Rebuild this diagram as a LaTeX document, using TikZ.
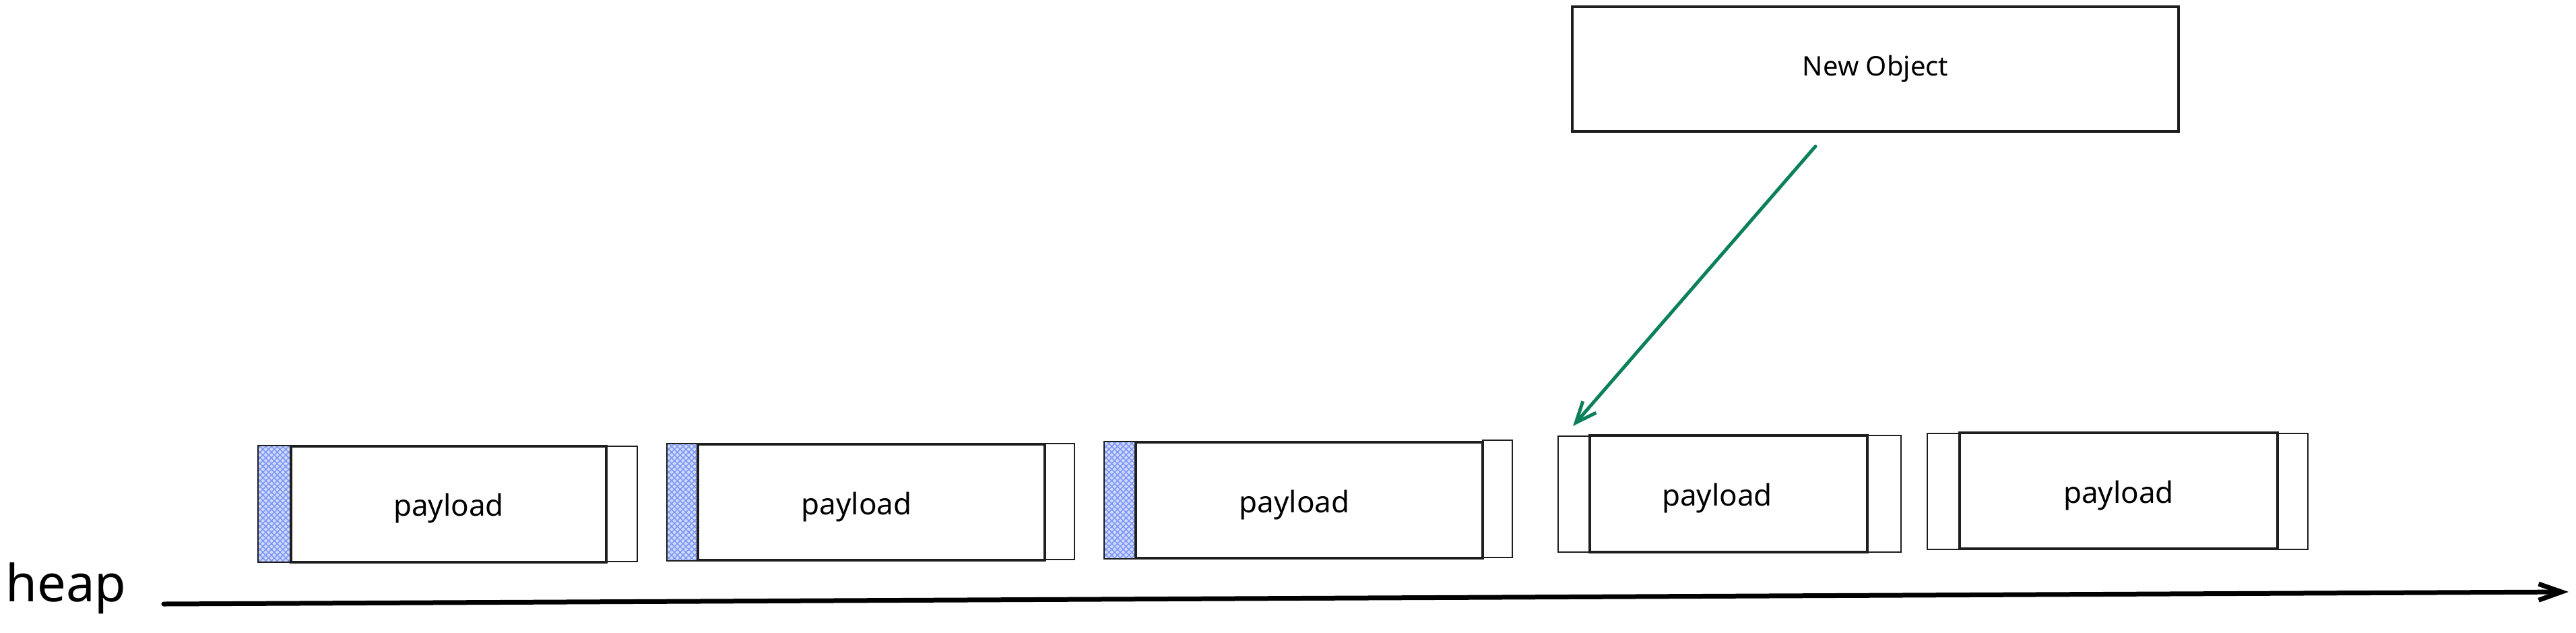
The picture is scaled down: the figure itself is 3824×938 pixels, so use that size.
\documentclass[tikz,border=0pt]{standalone}
\usepackage{fontspec}
\setmainfont{Noto Sans}
\usetikzlibrary{arrows.meta,patterns.meta}
\definecolor{hatchfill}{HTML}{D0DAFC}
\definecolor{hatchline}{HTML}{7E97F6}
\definecolor{arrowgreen}{HTML}{0C7F5B}
\definecolor{inkblack}{HTML}{1E1E1E}
\tikzset{
  sidebox/.style={draw=inkblack, line width=2pt, rectangle, inner sep=0pt, fill=white},
  hatchbox/.style={sidebox, fill=hatchfill,
    postaction={pattern={Lines[angle=45,distance=6pt,line width=1.6pt]}, pattern color=hatchline},
    postaction={pattern={Lines[angle=-45,distance=6pt,line width=1.6pt]}, pattern color=hatchline},
    postaction={draw=inkblack, line width=2pt}},
  payloadbox/.style={draw=inkblack, line width=4pt, rectangle, inner sep=0pt, fill=white,
    font=\fontsize{44}{52}\selectfont},
  objbox/.style={draw=inkblack, line width=3.6pt, rectangle, inner sep=0pt, fill=white,
    font=\fontsize{40}{48}\selectfont},
  heaplabel/.style={inner sep=0pt, anchor=base west, font=\fontsize{76}{90}\selectfont},
  axisline/.style={draw=black, line width=7pt, line cap=round, -{Straight Barb[length=34pt,width=24pt]}},
  greenarrow/.style={draw=arrowgreen, line width=5pt, line cap=round, -{Straight Barb[length=31pt,width=26pt]}}
}
% text lowered below the box centre; optional argument moves it left by half its value (pt)
\newcommand\ptext[2][0]{\raisebox{-18pt}[0pt][0pt]{\makebox[0pt]{#2}}\kern#1pt\relax}
\begin{document}
\begin{tikzpicture}[x=1pt,y=-1pt]
\useasboundingbox (0,0) rectangle (3824,938);
\fill[white] (0,0) rectangle (3824,938);

% block 1
\node[hatchbox, minimum width=49pt, minimum height=173pt] (h1) at (407.5,747.5) {};
\node[sidebox, minimum width=46pt, minimum height=171pt] (f1) at (923,747.5) {};
\node[payloadbox, minimum width=468pt, minimum height=172pt] (p1) at (666,747.5) {\ptext{payload}};

% block 2
\node[hatchbox, minimum width=46pt, minimum height=174pt] (h2) at (1013,745) {};
\node[sidebox, minimum width=44pt, minimum height=172pt] (f2) at (1573,744) {};
\node[payloadbox, minimum width=515pt, minimum height=172pt] (p2) at (1293.5,745) {\ptext[44]{payload}};

% block 3
\node[hatchbox, minimum width=47pt, minimum height=174pt] (h3) at (1662.5,742) {};
\node[sidebox, minimum width=44pt, minimum height=174pt] (f3) at (2223,740) {};
\node[payloadbox, minimum width=515pt, minimum height=172pt] (p3) at (1943.5,742) {\ptext[44]{payload}};

% block 4
\node[sidebox, minimum width=47pt, minimum height=172pt] (h4) at (2336.5,732.5) {};
\node[sidebox, minimum width=50pt, minimum height=173pt] (f4) at (2797,732) {};
\node[payloadbox, minimum width=412pt, minimum height=173pt] (p4) at (2566,732.5) {\ptext[34]{payload}};

% block 5
\node[sidebox, minimum width=48pt, minimum height=172pt] (h5) at (2885,729) {};
\node[sidebox, minimum width=45pt, minimum height=172pt] (f5) at (3403.5,729) {};
\node[payloadbox, minimum width=472pt, minimum height=172pt] (p5) at (3145,728) {\ptext{payload}};

% new object
\node[objbox, minimum width=900pt, minimum height=185pt] (new) at (2784,102.5) {New Object};

% green arrow
\coordinate (gstart) at (2695,217);
\coordinate (gend) at (2335,632);
\draw[greenarrow] (gstart) -- (gend);

% heap axis
\node[heaplabel] (heap) at (8,892) {heap};
\coordinate (axstart) at (243,896);
\coordinate (axend) at (3813,878);
\draw[axisline] (axstart) -- (axend);
\end{tikzpicture}
\end{document}
